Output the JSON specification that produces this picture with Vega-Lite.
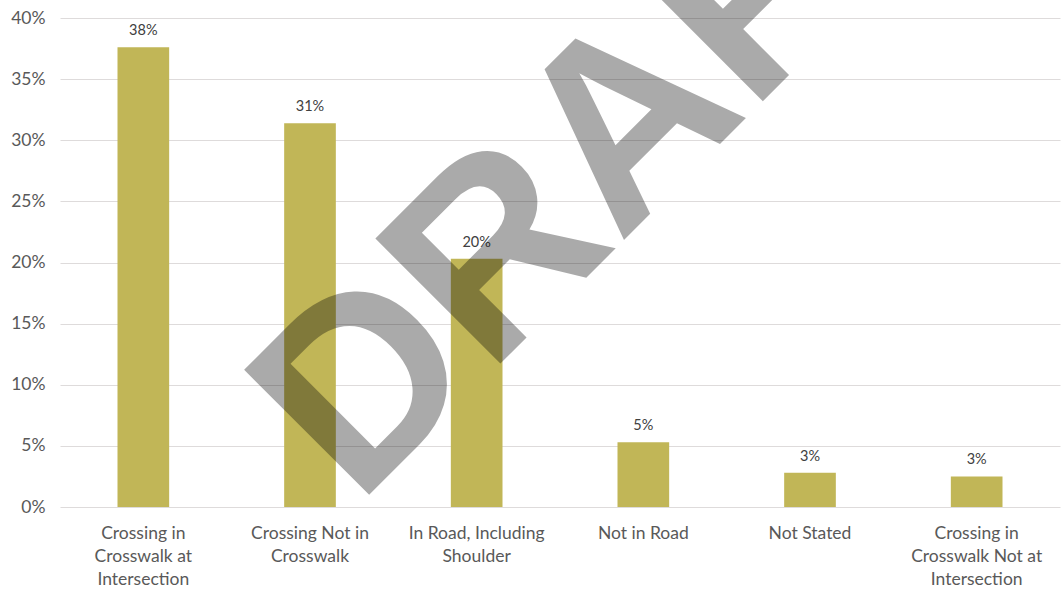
{
  "$schema": "https://vega.github.io/schema/vega-lite/v6.json",
  "width": 1000,
  "height": 489,
  "autosize": {"type": "none"},
  "padding": {"left": 60, "top": 18, "right": 2, "bottom": 83},
  "background": "white",
  "config": {"view": {"stroke": null}, "font": "Lato"},
  "data": {
    "values": [
      {"category": "Crossing in Crosswalk at Intersection", "pct": 0.376},
      {"category": "Crossing Not in Crosswalk", "pct": 0.314},
      {"category": "In Road, Including Shoulder", "pct": 0.203},
      {"category": "Not in Road", "pct": 0.053},
      {"category": "Not Stated", "pct": 0.028},
      {"category": "Crossing in Crosswalk Not at Intersection", "pct": 0.025}
    ]
  },
  "layer": [
    {
      "encoding": {
        "x": {
          "field": "category",
          "type": "nominal",
          "sort": null,
          "scale": {"paddingInner": 0.69, "paddingOuter": 0.345},
          "axis": {
            "title": null,
            "domain": false,
            "ticks": false,
            "grid": false,
            "labelAngle": 0,
            "labelFontSize": 17.5,
            "labelColor": "#595959",
            "labelBaseline": "top",
            "labelPadding": 17,
            "labelLineHeight": 23,
            "labelOverlap": false,
            "labelBound": false,
            "labelLimit": 0,
            "labelExpr": "datum.value == 'Crossing in Crosswalk at Intersection' ? ['Crossing in','Crosswalk at','Intersection'] : datum.value == 'Crossing Not in Crosswalk' ? ['Crossing Not in','Crosswalk'] : datum.value == 'In Road, Including Shoulder' ? ['In Road, Including','Shoulder'] : datum.value == 'Crossing in Crosswalk Not at Intersection' ? ['Crossing in','Crosswalk Not at','Intersection'] : datum.value"
          }
        },
        "y": {
          "field": "pct",
          "type": "quantitative",
          "scale": {"domain": [0, 0.4], "nice": false},
          "axis": {
            "title": null,
            "values": [0, 0.05, 0.1, 0.15, 0.2, 0.25, 0.3, 0.35, 0.4],
            "format": ".0%",
            "domain": false,
            "ticks": false,
            "labelFontSize": 17.5,
            "labelColor": "#595959",
            "labelPadding": 15,
            "gridColor": "#DEDBDB",
            "gridWidth": 1
          }
        }
      },
      "layer": [
        {"mark": {"type": "bar", "color": "#C1B657"}},
        {
          "mark": {"type": "text", "baseline": "alphabetic", "dy": -12, "fontSize": 14.5, "color": "#404040"},
          "encoding": {"text": {"field": "pct", "format": ".0%"}}
        }
      ]
    },
    {
      "data": {"values": [{}]},
      "mark": {
        "type": "text",
        "font": "Liberation Sans",
        "fontWeight": "bold",
        "fontSize": 257,
        "angle": -45,
        "align": "left",
        "baseline": "alphabetic",
        "color": "black",
        "opacity": 0.33
      },
      "encoding": {
        "x": {"datum": 1.782, "type": "quantitative", "scale": {"domain": [0, 6], "nice": false, "zero": false}, "axis": null},
        "y": {"datum": 0, "type": "quantitative"},
        "text": {"value": "DRAFT"}
      }
    }
  ],
  "resolve": {"scale": {"x": "independent"}}
}
